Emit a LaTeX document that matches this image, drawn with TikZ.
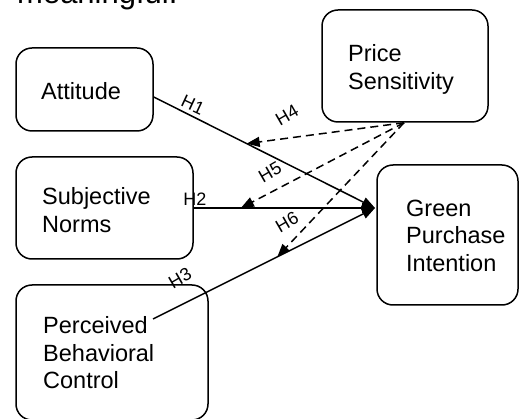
\documentclass[tikz,border=0pt]{standalone}
\usepackage{fontspec}
\setmainfont{Liberation Sans}
\usetikzlibrary{arrows.meta,calc}

\begin{document}
\begin{tikzpicture}[x=1pt, y=-1pt,
  box/.style={draw, line width=1.5pt, rounded corners=16pt, inner sep=0pt},
  boxtext/.style={anchor=west, align=left, inner sep=0pt, font=\fontsize{23.5}{27.5}\selectfont},
  link/.style={line width=1.5pt, -{Triangle[length=13pt,width=10pt]}},
  modlink/.style={link, dash pattern=on 8pt off 5pt},
  hyp/.style={inner sep=0pt, font=\fontsize{18}{20}\selectfont}]
\useasboundingbox (0,0) rectangle (527,419);

% Lead text (cut off at the top)
\node[anchor=base west, inner sep=0pt, font=\fontsize{31}{37}\selectfont] (lead) at (17,4) {meaningful.};

% Boxes
\node[box, minimum width=137pt, minimum height=83pt] (att) at (84.5,89.5) {};
\node[box, minimum width=166pt, minimum height=112pt] (ps) at (405,66) {};
\node[box, minimum width=177pt, minimum height=102pt] (sn) at (104.5,208) {};
\node[box, minimum width=141pt, minimum height=140pt] (gpi) at (447.5,235) {};
\node[box, minimum width=192pt, minimum height=135pt] (pbc) at (112,352.5) {};

% Box texts
\node[boxtext] (att text) at (41,91) {Attitude};
\node[boxtext] (ps text) at (348,69.5) {Price\\Sensitivity};
\node[boxtext] (sn text) at (42,210) {Subjective\\Norms};
\node[boxtext] (gpi text) at (406,235.5) {Green\\Purchase\\Intention};
\node[boxtext] (pbc text) at (43,353) {Perceived\\Behavioral\\Control};

% Connector ends
\coordinate (gin) at (375,208);
\coordinate (att out) at ([yshift=-7.5pt]att.east);
\coordinate (pbc out) at (153,319);
\coordinate (ps out) at ([xshift=-1pt]ps.south);

% Direct paths
\draw[link] (att out) -- (gin);
\draw[link] (sn.east) -- (gin);
\draw[link] (pbc out) -- (gin);

% Moderation paths
\draw[modlink] (ps out) -- ($(att out)!0.42!(gin)$);
\draw[modlink] (ps out) -- ($(sn.east)!0.26!(gin)$);
\draw[modlink] (ps out) -- ($(pbc out)!0.56!(gin)$);

% Hypothesis labels
\node[hyp, rotate=-25] (h1) at (193,105) {H1};
\node[hyp] (h2) at (195,199) {H2};
\node[hyp, rotate=30] (h3) at (180,278) {H3};
\node[hyp, rotate=30] (h4) at (287,115) {H4};
\node[hyp, rotate=30] (h5) at (270,172) {H5};
\node[hyp, rotate=30] (h6) at (287,222) {H6};
\end{tikzpicture}
\end{document}
